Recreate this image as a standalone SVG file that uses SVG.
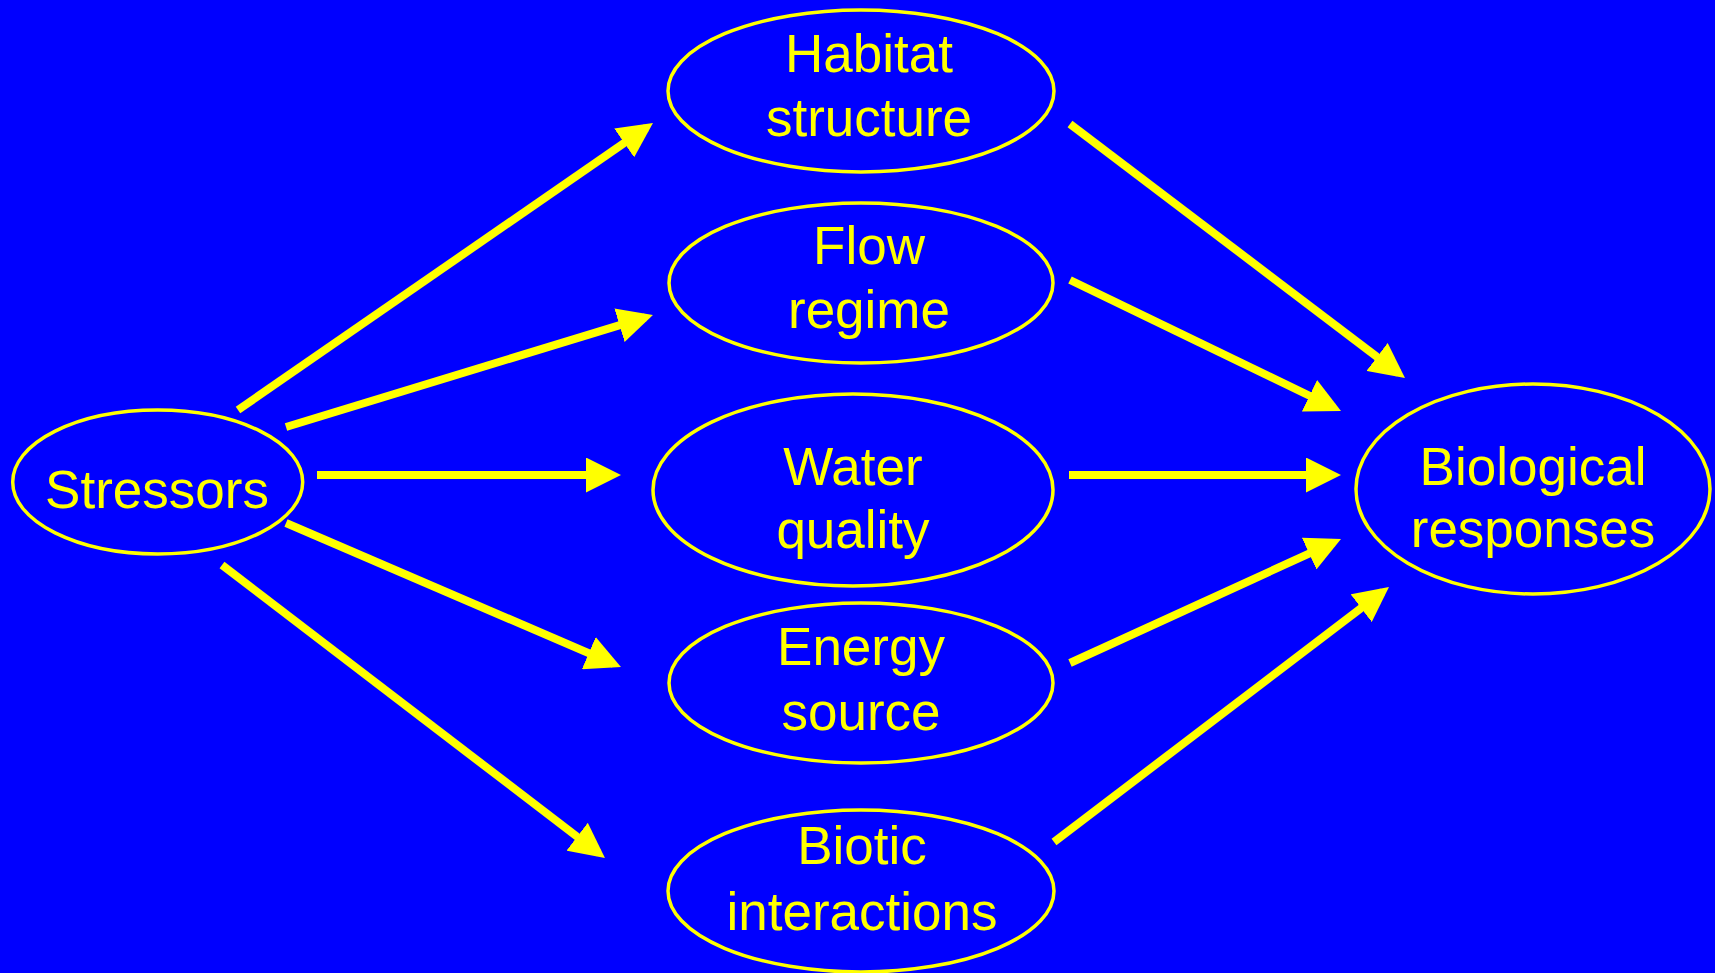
<svg xmlns="http://www.w3.org/2000/svg" width="1715" height="973" viewBox="0 0 1715 973">
<style>
.node ellipse{fill:#0000FF;stroke:#FFFF00;stroke-width:3.5}
.node text{fill:#FFFF00;font-family:"Liberation Sans",Arial,sans-serif;font-size:53px;text-anchor:middle}
.edge{stroke:#FFFF00;stroke-width:8;fill:none;marker-end:url(#ah)}
</style>
<defs>
<marker id="ah" markerUnits="userSpaceOnUse" viewBox="0 0 35 35" markerWidth="35" markerHeight="35" refX="27" refY="17.5" orient="auto">
<path d="M0,0 L35,17.5 L0,35 z" fill="#FFFF00"/>
</marker>
</defs>
<rect width="1715" height="973" fill="#0000FF"/>
<g id="connectors">
<line class="edge" x1="238" y1="410" x2="646.4" y2="127.6"/>
<line class="edge" x1="286" y1="427" x2="645.3" y2="317.3"/>
<line class="edge" x1="317" y1="475" x2="613" y2="475"/>
<line class="edge" x1="286" y1="523" x2="613.6" y2="663.8"/>
<line class="edge" x1="222" y1="565" x2="598.6" y2="853.1"/>
<line class="edge" x1="1070" y1="124" x2="1398.6" y2="373.2"/>
<line class="edge" x1="1070" y1="280" x2="1333.8" y2="407.5"/>
<line class="edge" x1="1069" y1="475" x2="1333" y2="475"/>
<line class="edge" x1="1070" y1="663" x2="1333.7" y2="542.3"/>
<line class="edge" x1="1054" y1="842" x2="1382.6" y2="591.8"/>
</g>
<g id="stressors" class="node">
<ellipse cx="157.7" cy="482" rx="145" ry="72"/>
<text x="157" y="507.5">Stressors</text>
</g>
<g id="habitat" class="node">
<ellipse cx="861" cy="91" rx="193" ry="81"/>
<text x="869" y="72">Habitat</text>
<text x="869" y="136">structure</text>
</g>
<g id="flow" class="node">
<ellipse cx="861" cy="283" rx="192" ry="80"/>
<text x="869" y="264">Flow</text>
<text x="869" y="328">regime</text>
</g>
<g id="water" class="node">
<ellipse cx="853" cy="490" rx="200" ry="96"/>
<text x="853" y="485">Water</text>
<text x="853" y="548">quality</text>
</g>
<g id="energy" class="node">
<ellipse cx="861" cy="683" rx="192" ry="80"/>
<text x="861" y="665">Energy</text>
<text x="861" y="730">source</text>
</g>
<g id="biotic" class="node">
<ellipse cx="861" cy="891" rx="193" ry="81"/>
<text x="862" y="864">Biotic</text>
<text x="862" y="930">interactions</text>
</g>
<g id="biological" class="node">
<ellipse cx="1533" cy="489" rx="177" ry="105"/>
<text x="1533" y="485">Biological</text>
<text x="1533" y="547">responses</text>
</g>
</svg>
